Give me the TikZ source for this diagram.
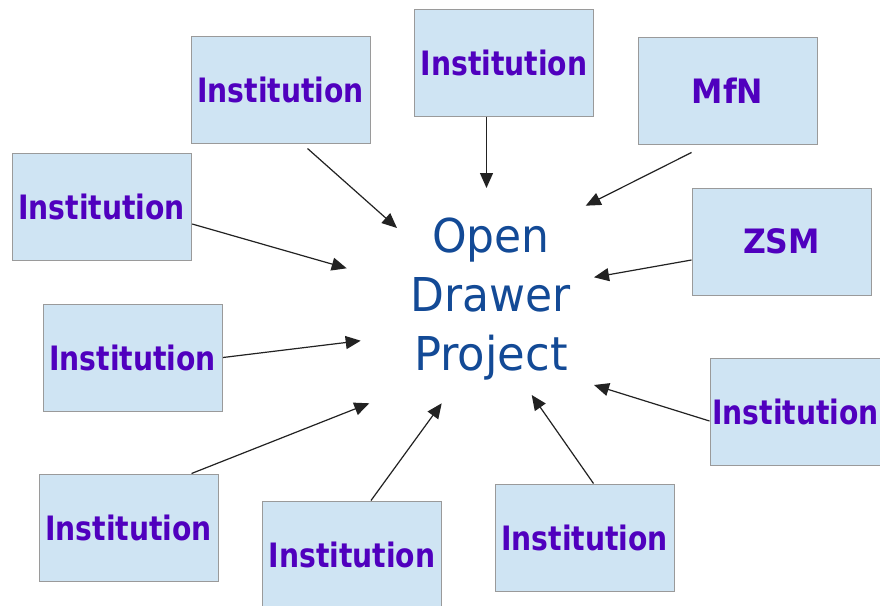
\documentclass[tikz,border=0pt]{standalone}
\usepackage{fontspec}
\setmainfont{DejaVu Sans}
\usetikzlibrary{arrows.meta}
\definecolor{boxfill}{HTML}{CFE4F3}
\definecolor{boxline}{HTML}{9A9A9A}
\definecolor{boxtext}{HTML}{5000BE}
\definecolor{centertext}{HTML}{134A96}
\definecolor{arrowcol}{HTML}{222222}
\newcommand{\boxlabel}[2]{\scalebox{#1}[1.12]{#2}}
\tikzset{
  instbox/.style={draw=boxline, line width=1pt, fill=boxfill, minimum width=179pt,
    minimum height=107pt, inner sep=0pt, text=boxtext,
    font=\fontsize{30}{36}\selectfont\bfseries},
  feed/.style={draw=arrowcol, line width=1.2pt, -{Triangle[length=15pt,width=13pt]}},
}
\begin{document}
\begin{tikzpicture}[x=1pt,y=-1pt]
\clip (0,0) rectangle (880,605);
\fill[white] (0,0) rectangle (880,605);

\node[instbox] (b1) at (280.5,89.5) {\boxlabel{0.94}{Institution}};
\node[instbox] (b2) at (504,62.5) {\boxlabel{0.94}{Institution}};
\node[instbox] (b3) at (727.5,90.5) {\boxlabel{1.05}{MfN}};
\node[instbox] (b4) at (101.5,206.5) {\boxlabel{0.94}{Institution}};
\node[instbox] (b5) at (781.5,241.5) {\boxlabel{1.05}{ZSM}};
\node[instbox] (b6) at (132.5,357.5) {\boxlabel{0.94}{Institution}};
\node[instbox] (b7) at (799.5,411.5) {\kern-8pt\boxlabel{0.94}{Institution}};
\node[instbox] (b8) at (128.5,527.5) {\boxlabel{0.94}{Institution}};
\node[instbox] (b9) at (352,554.5) {\boxlabel{0.94}{Institution}};
\node[instbox] (b10) at (584.5,537.5) {\boxlabel{0.94}{Institution}};

\node[text=centertext, align=center, inner sep=0pt,
  font=\fontsize{44}{59}\selectfont] (odp) at (491,299.5)
  {\scalebox{1}[1.06]{Open}\\\scalebox{1}[1.06]{Drawer}\\\scalebox{1.02}[1.06]{Project}};

\coordinate (t1) at (397,228);
\coordinate (t2) at (486.5,188);
\coordinate (t3) at (585.7,205.7);
\coordinate (t4) at (346.7,268.3);
\coordinate (t5) at (594,277.3);
\coordinate (t6) at (360.7,340.7);
\coordinate (t7) at (594,385);
\coordinate (t8) at (369.3,403.3);
\coordinate (t9) at (441.7,403.3);
\coordinate (t10) at (531.7,395);

\draw[feed] ([shift={(27,5)}]b1.south) -- (t1);
\draw[feed] ([shift={(-17.5,0)}]b2.south) -- (t2);
\draw[feed] ([shift={(-36,8)}]b3.south) -- (t3);
\draw[feed] ([shift={(0.7,17.5)}]b4.east) -- (t4);
\draw[feed] ([shift={(0,18.5)}]b5.west) -- (t5);
\draw[feed] ([shift={(0.5,0)}]b6.east) -- (t6);
\draw[feed] ([shift={(0,9.5)}]b7.west) -- (t7);
\draw[feed] ([shift={(63,0)}]b8.north) -- (t8);
\draw[feed] ([shift={(19,0)}]b9.north) -- (t9);
\draw[feed] ([shift={(9,0)}]b10.north) -- (t10);
\end{tikzpicture}
\end{document}
